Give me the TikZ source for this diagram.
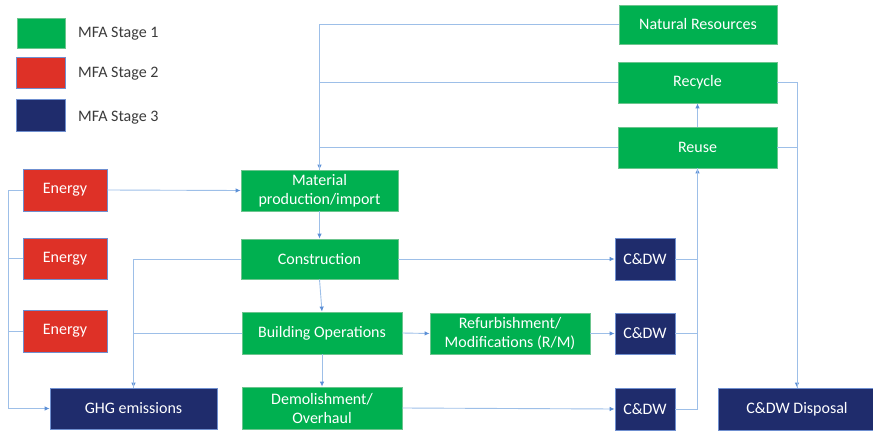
\documentclass[tikz,border=0pt]{standalone}
\usepackage{fontspec}
\setmainfont{Carlito}
\usetikzlibrary{arrows.meta}
\definecolor{cgreen}{HTML}{00B050}
\definecolor{cred}{HTML}{DE3127}
\definecolor{cnavy}{HTML}{1F2C6C}
\definecolor{cline}{HTML}{9DBFE8}
\definecolor{ctip}{HTML}{5B8FD6}
\definecolor{cgborder}{HTML}{6CC58E}
\definecolor{cbborder}{HTML}{6F8FD0}
\definecolor{ctext}{HTML}{3A3A3A}
\tikzset{
  box/.style={inner sep=1pt, align=center, text=white, font=\fontsize{16}{19}\selectfont, line width=0.8pt},
  gbox/.style={box, fill=cgreen, draw=cgborder},
  rbox/.style={box, fill=cred, draw=cbborder},
  nbox/.style={box, fill=cnavy, draw=cbborder},
  ln/.style={draw=cline, line width=0.9pt},
  arr/.style={ln, -{Latex[length=5pt,width=4.5pt,color=ctip]}},
  legtext/.style={anchor=west, text=ctext, font=\fontsize{16}{19}\selectfont, inner sep=0pt}
}
\begin{document}
\begin{tikzpicture}[x=1pt,y=-1pt]
\useasboundingbox (0,0) rectangle (873,431);
% legend
\node[gbox, minimum width=48pt, minimum height=30pt] (lg) at (41,33) {};
\node[rbox, minimum width=49pt, minimum height=31pt] (lr) at (40.5,73) {};
\node[nbox, minimum width=49pt, minimum height=32pt] (lb) at (40.5,115.5) {};
\node[legtext] (lgt) at (78,34) {MFA Stage 1};
\node[legtext] (lrt) at (78,74) {MFA Stage 2};
\node[legtext] (lbt) at (78,118) {MFA Stage 3};
% nodes
\node[gbox, minimum width=158pt, minimum height=39pt] (nat) at (698,24.5) {Natural Resources};
\node[gbox, minimum width=159pt, minimum height=41pt] (rec) at (697.5,82.5) {Recycle};
\node[gbox, minimum width=159pt, minimum height=41pt] (reu) at (697.5,147.5) {Reuse};
\node[rbox, minimum width=84pt, minimum height=42pt] (e1) at (65,190) {Energy};
\node[rbox, minimum width=84pt, minimum height=41pt] (e2) at (65,258.5) {Energy};
\node[rbox, minimum width=84pt, minimum height=42pt] (e3) at (65,331) {Energy};
\node[nbox, minimum width=167pt, minimum height=41pt] (ghg) at (133.5,408.5) {GHG emissions};
\node[gbox, minimum width=157pt, minimum height=41pt] (mat) at (319.5,190.5) {Material\\production/import};
\node[gbox, minimum width=157pt, minimum height=40pt] (con) at (319.5,259) {Construction};
\node[gbox, minimum width=160pt, minimum height=42pt] (bop) at (322,333) {Building Operations};
\node[gbox, minimum width=160pt, minimum height=42pt] (dem) at (322,408) {Demolishment/\\Overhaul};
\node[gbox, minimum width=160pt, minimum height=41pt] (ref) at (510,333.5) {Refurbishment/\\Modifications (R/M)};
\node[nbox, minimum width=60pt, minimum height=42pt] (c1) at (645,259) {C\&DW};
\node[nbox, minimum width=60pt, minimum height=41pt] (c2) at (645,333.5) {C\&DW};
\node[nbox, minimum width=60pt, minimum height=42pt] (c3) at (645,409) {C\&DW};
\node[nbox, minimum width=158pt, minimum height=42pt] (disp) at (797,409) {C\&DW Disposal};
\coordinate (eL) at (8,0);
% connectors to material production
\draw[arr] (nat.west) -| (mat.north);
\draw[ln] (rec.west) -| (mat.north);
\draw[ln] (reu.west) -| (mat.north);
\draw[arr] (reu.north) -- (rec.south);
% C&DW to reuse
\draw[arr] (c3.east) -| (reu.south);
\draw[ln] (c1.east) -| (reu.south);
\draw[ln] (c2.east) -| (reu.south);
% to disposal
\draw[arr] (rec.east) -| (disp.north);
\draw[ln] (reu.east) -| (disp.north);
% energy
\draw[arr] (e1.east) -- (mat.west);
\draw[arr] (e1.west) -- (e1.west -| eL) |- (ghg.west);
\draw[ln] (e2.west) -- (e2.west -| eL);
\draw[ln] (e3.west) -- (e3.west -| eL);
% emissions
\draw[arr] (con.west) -| (ghg.north);
\draw[ln] (bop.west) -| (ghg.north);
% main chain
\draw[arr] (mat.south) -- (con.north);
\draw[arr] (con.south) -- (bop.north);
\draw[arr] (bop.south) -- (dem.north);
\draw[arr] (con.east) -- (c1.west);
\draw[arr] (bop.east) -- (ref.west);
\draw[arr] (ref.east) -- (c2.west);
\draw[arr] (dem.east) -- (c3.west);
\end{tikzpicture}
\end{document}
